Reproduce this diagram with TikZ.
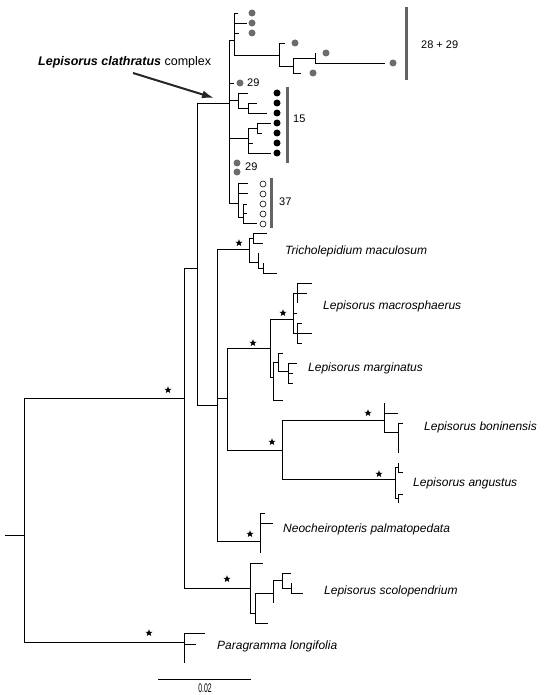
\documentclass[tikz,border=0pt]{standalone}
\usepackage{fontspec}
\setmainfont{Liberation Sans}
\usepackage{tikz}
\usetikzlibrary{
  arrows.meta, % for the pointer arrow
  shapes.geometric}
\definecolor{dotgrey}{RGB}{108,108,108}
\definecolor{bargrey}{RGB}{100,100,100}
\tikzstyle{branch} = [draw, -, line width=0.9pt, to path={|- (\tikztotarget)}]
\tikzstyle{taxon} = [anchor=west, inner sep=0pt, font=\fontsize{12}{14}\selectfont\itshape]
\tikzstyle{count} = [anchor=west, inner sep=0pt, font=\fontsize{11}{13}\selectfont]
\tikzstyle{support} = [star, star points=5, star point ratio=2.4, fill=black, inner sep=0pt, minimum size=7.5pt]
\tikzstyle{greydot} = [circle, fill=dotgrey, inner sep=0pt, minimum size=7pt]
\tikzstyle{blackdot} = [circle, fill=black, inner sep=0pt, minimum size=7pt]
\tikzstyle{opendot} = [circle, draw, line width=0.6pt, inner sep=0pt, minimum size=6pt]
\tikzstyle{groupbar} = [draw=bargrey, line width=3pt]

\begin{document}
\begin{tikzpicture}[x=1pt, y=-1pt, >={Latex[length=12pt,width=8pt]}]
\useasboundingbox (0,0) rectangle (544,695);

% backbone
\coordinate (rootin) at (5,535);
\coordinate (root) at (24,535);
\coordinate (nX) at (184,398);
\coordinate (nPg) at (184,642);
\coordinate (nY) at (197,268);
\coordinate (nSc) at (250,588);
\coordinate (nE) at (229,103);
\coordinate (nZ) at (217,405);
\coordinate (nT) at (249,249);
\coordinate (nC) at (227,398);
\coordinate (nN1) at (260,541);
\coordinate (nQ) at (270,348);
\coordinate (nS) at (282,450);

\draw[branch] (rootin) -- (root);
\path (root) edge[branch] (nX) edge[branch] (nPg);
\path (nX) edge[branch] (nY) edge[branch] (nSc);
\path (nY) edge[branch] (nE) edge[branch] (nZ);
\path (nZ) edge[branch] (nT) edge[branch] (nC) edge[branch] (nN1);
\path (nC) edge[branch] (nQ) edge[branch] (nS);

% clathratus complex
\coordinate (nP) at (234,40);
\coordinate (pl1) at (238,13);
\coordinate (pl2) at (247,23);
\coordinate (pl3) at (239,33);
\coordinate (nG) at (279,55);
\coordinate (gl1) at (285,43);
\coordinate (nH) at (293,66);
\coordinate (hl1) at (301,73);
\coordinate (nI) at (315,58);
\coordinate (il1) at (315,53);
\coordinate (il2) at (385,63);
\coordinate (l29a) at (234,83);
\coordinate (nJ) at (238,100);
\coordinate (jl1) at (248,93);
\coordinate (nM) at (248,108);
\coordinate (ml1) at (257,103);
\coordinate (ml2) at (267,113);
\coordinate (nK) at (248,138);
\coordinate (nL) at (257,128);
\coordinate (ll1) at (271,123);
\coordinate (ll2) at (262,133);
\coordinate (kl1) at (253,143);
\coordinate (kl2) at (271,153);
\coordinate (nOp) at (238,203);
\coordinate (ol1) at (248,183);
\coordinate (ol2) at (248,193);
\coordinate (nO) at (243,217);
\coordinate (oo1) at (247,204);
\coordinate (oo2) at (247,213);
\coordinate (oo3) at (257,223);

\path (nE) edge[branch] (nP) edge[branch] (l29a) edge[branch] (nJ)
  edge[branch] (nK) edge[branch] (nOp);
\path (nP) edge[branch] (pl1) edge[branch] (pl2) edge[branch] (pl3) edge[branch] (nG);
\path (nG) edge[branch] (gl1) edge[branch] (nH);
\path (nH) edge[branch] (nI) edge[branch] (hl1);
\path (nI) edge[branch] (il1) edge[branch] (il2);
\path (nJ) edge[branch] (jl1) edge[branch] (nM);
\path (nM) edge[branch] (ml1) edge[branch] (ml2);
\path (nK) edge[branch] (nL) edge[branch] (kl1) edge[branch] (kl2);
\path (nL) edge[branch] (ll1) edge[branch] (ll2);
\path (nOp) edge[branch] (ol1) edge[branch] (ol2) edge[branch] (nO);
\path (nO) edge[branch] (oo1) edge[branch] (oo2) edge[branch] (oo3);

% markers of the complex
\node[greydot] (g1) at (252,13) {};
\node[greydot] (g2) at (252,23) {};
\node[greydot] (g3) at (252,33) {};
\node[greydot] (g4) at (295,43) {};
\node[greydot] (g5) at (326,53) {};
\node[greydot] (g6) at (393,63) {};
\node[greydot] (g7) at (313,73) {};
\node[greydot] (g8) at (240,83) {};
\node[greydot] (g9) at (237,163) {};
\node[greydot] (g10) at (237,172) {};
\node[blackdot] (b1) at (277,93) {};
\node[blackdot] (b2) at (277,103) {};
\node[blackdot] (b3) at (277,113) {};
\node[blackdot] (b4) at (277,123) {};
\node[blackdot] (b5) at (277,133) {};
\node[blackdot] (b6) at (277,143) {};
\node[blackdot] (b7) at (277,153) {};
\node[opendot] (o1) at (263,184) {};
\node[opendot] (o2) at (263,194) {};
\node[opendot] (o3) at (263,204) {};
\node[opendot] (o4) at (263,214) {};
\node[opendot] (o5) at (263,224) {};

\coordinate (bar1t) at (406,7);
\coordinate (bar1b) at (406,80);
\coordinate (bar2t) at (287,87);
\coordinate (bar2b) at (287,163);
\coordinate (bar3t) at (271,178);
\coordinate (bar3b) at (271,228);
\draw[groupbar] (bar1t) -- (bar1b);
\draw[groupbar] (bar2t) -- (bar2b);
\draw[groupbar] (bar3t) -- (bar3b);
\node[count] (c2829) at (421,45) {28 + 29};
\node[count] (c15) at (293,119) {15};
\node[count] (c29a) at (247,83) {29};
\node[count] (c29b) at (245,167) {29};
\node[count] (c37) at (279,202) {37};

\node[anchor=west, inner sep=0pt, font=\fontsize{12.5}{14}\selectfont] (cplx) at (38,62)
  {\textbf{\textit{Lepisorus clathratus}} complex};
\coordinate (arrtail) at (133,73);
\coordinate (arrtip) at (214,98);
\draw[->, line width=2pt, black!85] (arrtail) -- (arrtip);

% Tricholepidium
\coordinate (nU) at (253,238);
\coordinate (ul1) at (267,233);
\coordinate (ul2) at (263,243);
\coordinate (nV) at (258,262);
\coordinate (vl1) at (258,253);
\coordinate (nW) at (263,268);
\coordinate (wl1) at (263,263);
\coordinate (wl2) at (277,273);
\path (nT) edge[branch] (nU) edge[branch] (nV);
\path (nU) edge[branch] (ul1) edge[branch] (ul2);
\path (nV) edge[branch] (vl1) edge[branch] (nW);
\path (nW) edge[branch] (wl1) edge[branch] (wl2);

% macrosphaerus + marginatus
\coordinate (nR) at (293,319);
\coordinate (nR1) at (297,293);
\coordinate (r1a) at (312,283);
\coordinate (r1b) at (307,293);
\coordinate (r1c) at (297,303);
\coordinate (rl) at (297,313);
\coordinate (nR2) at (297,333);
\coordinate (r2a) at (302,323);
\coordinate (r2b) at (312,333);
\coordinate (r2c) at (302,343);
\coordinate (nM1) at (273,377);
\coordinate (nM2) at (278,362);
\coordinate (m2l) at (283,353);
\coordinate (nM3) at (288,371);
\coordinate (m3a) at (297,363);
\coordinate (m3b) at (293,373);
\coordinate (m3c) at (293,383);
\coordinate (m1l) at (283,400);
\path (nQ) edge[branch] (nR) edge[branch] (nM1);
\path (nR) edge[branch] (nR1) edge[branch] (rl) edge[branch] (nR2);
\path (nR1) edge[branch] (r1a) edge[branch] (r1b) edge[branch] (r1c);
\path (nR2) edge[branch] (r2a) edge[branch] (r2b) edge[branch] (r2c);
\path (nM1) edge[branch] (nM2) edge[branch] (m1l);
\path (nM2) edge[branch] (m2l) edge[branch] (nM3);
\path (nM3) edge[branch] (m3a) edge[branch] (m3b) edge[branch] (m3c);

% boninensis + angustus
\coordinate (nB1) at (384,420);
\coordinate (b1a) at (384,403);
\coordinate (b1b) at (398,413);
\coordinate (nB2) at (398,432);
\coordinate (b2a) at (403,423);
\coordinate (b2b) at (398,453);
\coordinate (nA1) at (395,479);
\coordinate (nA2) at (398,467);
\coordinate (a2a) at (398,463);
\coordinate (a2b) at (403,472);
\coordinate (nA3) at (398,498);
\coordinate (a3a) at (403,494);
\coordinate (a3b) at (398,503);
\path (nS) edge[branch] (nB1) edge[branch] (nA1);
\path (nB1) edge[branch] (b1a) edge[branch] (b1b) edge[branch] (nB2);
\path (nB2) edge[branch] (b2a) edge[branch] (b2b);
\path (nA1) edge[branch] (nA2) edge[branch] (nA3);
\path (nA2) edge[branch] (a2a) edge[branch] (a2b);
\path (nA3) edge[branch] (a3a) edge[branch] (a3b);

% Neocheiropteris
\coordinate (n1a) at (265,513);
\coordinate (n1b) at (273,523);
\coordinate (n1c) at (260,553);
\path (nN1) edge[branch] (n1a) edge[branch] (n1b) edge[branch] (n1c);

% scolopendrium
\coordinate (sca) at (263,563);
\coordinate (nSc1) at (255,613);
\coordinate (nSc2) at (273,593);
\coordinate (nSc3) at (282,580);
\coordinate (sc3a) at (291,573);
\coordinate (nSc4) at (291,588);
\coordinate (sc4a) at (291,583);
\coordinate (sc4b) at (303,593);
\coordinate (sc2b) at (273,603);
\coordinate (sc1b) at (268,623);
\path (nSc) edge[branch] (sca) edge[branch] (nSc1);
\path (nSc1) edge[branch] (nSc2) edge[branch] (sc1b);
\path (nSc2) edge[branch] (nSc3) edge[branch] (sc2b);
\path (nSc3) edge[branch] (sc3a) edge[branch] (nSc4);
\path (nSc4) edge[branch] (sc4a) edge[branch] (sc4b);

% Paragramma
\coordinate (pga) at (205,633);
\coordinate (pgb) at (196,644);
\coordinate (pgc) at (184,663);
\path (nPg) edge[branch] (pga) edge[branch] (pgb) edge[branch] (pgc);

% support stars
\node[support] (st1) at (168,390) {};
\node[support] (st2) at (239,243) {};
\node[support] (st3) at (253,343) {};
\node[support] (st4) at (283,313) {};
\node[support] (st5) at (272,442) {};
\node[support] (st6) at (368,413) {};
\node[support] (st7) at (379,474) {};
\node[support] (st8) at (250,534) {};
\node[support] (st9) at (227,579) {};
\node[support] (st10) at (149,633) {};

% taxon names
\node[taxon] (tmac) at (285,251) {Tricholepidium maculosum};
\node[taxon] (lmacr) at (323,306) {Lepisorus macrosphaerus};
\node[taxon] (lmarg) at (308,368) {Lepisorus marginatus};
\node[taxon] (lbon) at (424,427) {Lepisorus boninensis};
\node[taxon] (lang) at (413,483) {Lepisorus angustus};
\node[taxon] (npal) at (283,529) {Neocheiropteris palmatopedata};
\node[taxon] (lsco) at (324,591) {Lepisorus scolopendrium};
\node[taxon] (plon) at (217,646) {Paragramma longifolia};

% scale bar
\coordinate (sbl) at (158,679);
\coordinate (sbr) at (251,679);
\draw[line width=0.9pt] (sbl) -- (sbr);
\node[inner sep=0pt, font=\fontsize{12.5}{14}\selectfont] (sbtext) at (205,688)
  {\scalebox{0.55}[1]{0.02}};

\end{tikzpicture}
\end{document}
